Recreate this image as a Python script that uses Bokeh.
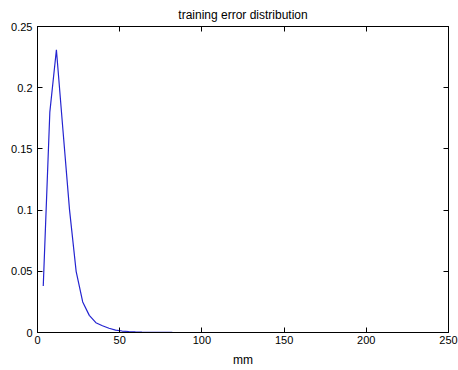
from bokeh.plotting import figure
from bokeh.models import LinearAxis, FixedTicker, Range1d
from bokeh.embed import file_html
from bokeh.resources import INLINE

# data (error in mm vs. relative frequency)
err_mm = [3.5, 7.5, 11.5, 15.5, 19.5, 23.5, 27.5, 31.5, 35.5, 39.5, 43.5,
          47.5, 51.5, 55.5, 59.5, 63.5, 67.5, 71.5, 75.5, 79.5, 82.0]
freq = [0.038, 0.180, 0.231, 0.165, 0.100, 0.050, 0.025, 0.014, 0.008, 0.0055,
        0.0035, 0.002, 0.0012, 0.0008, 0.0005, 0.0003, 0.0002, 0.0001, 0.0001,
        0.00005, 0.00003]

x_ticks = [0, 50, 100, 150, 200, 250]
y_ticks = [0, 0.05, 0.1, 0.15, 0.2, 0.25]
y_tick_labels = ["0", "0.05", "0.1", "0.15", "0.2", "0.25"]

FONT = "Liberation Sans"

p = figure(width=458, height=370, x_range=Range1d(0, 250), y_range=Range1d(0, 0.25),
           output_backend="svg", toolbar_location=None,
           min_border_left=37, min_border_right=10, min_border_top=24,
           min_border_bottom=38, title="training error distribution")
p.background_fill_color = "white"
p.border_fill_color = "white"
p.outline_line_color = "black"
p.outline_line_width = 1
p.xgrid.visible = False
p.ygrid.visible = False

p.title.align = "center"
p.title.text_font = FONT
p.title.text_font_size = "12px"
p.title.text_font_style = "normal"
p.title.text_color = "black"
p.title.standoff = 10

def style(ax, labels=True):
    ax.major_tick_in = 5
    ax.major_tick_out = 0
    ax.minor_tick_in = 0
    ax.minor_tick_out = 0
    ax.axis_line_color = "black"
    ax.major_tick_line_color = "black"
    ax.major_label_text_font = FONT
    ax.major_label_text_font_size = "11px" if labels else "0px"
    ax.major_label_text_color = "black"
    ax.axis_label_text_font = FONT
    ax.axis_label_text_font_size = "12px"
    ax.axis_label_text_font_style = "normal"
    ax.axis_label_text_color = "black"

xa = p.xaxis[0]
xa.ticker = FixedTicker(ticks=x_ticks)
xa.axis_label = "mm"
xa.major_label_standoff = 3
xa.axis_label_standoff = 6
style(xa)

ya = p.yaxis[0]
ya.ticker = FixedTicker(ticks=y_ticks)
ya.major_label_overrides = {t: l for t, l in zip(y_ticks, y_tick_labels)}
ya.major_label_standoff = 5
style(ya)

ra = LinearAxis(ticker=FixedTicker(ticks=y_ticks), major_label_standoff=0)
style(ra, labels=False)
p.add_layout(ra, "right")
ta = LinearAxis(ticker=FixedTicker(ticks=x_ticks), major_label_standoff=0)
style(ta, labels=False)
p.add_layout(ta, "above")

p.line(err_mm, freq, line_color="#2424d0", line_width=1.2)

open("out.html", "w").write(file_html(p, INLINE))
